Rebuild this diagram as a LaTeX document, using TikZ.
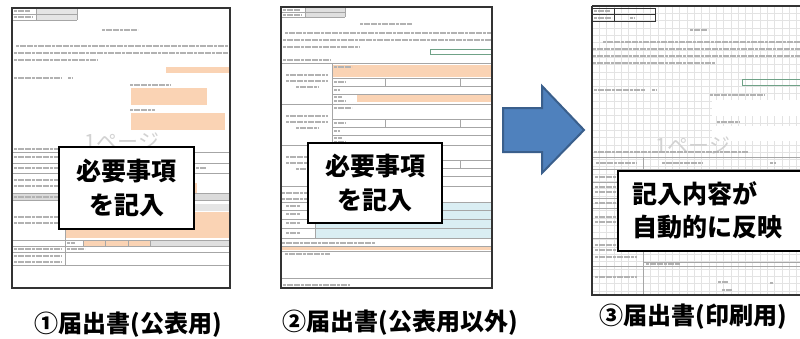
\documentclass[tikz,border=0pt]{standalone}
\usepackage{fontspec}
\newfontfamily\jpfont{Noto Sans CJK JP}
\definecolor{formorange}{HTML}{FAD3B4}
\definecolor{formblue}{HTML}{DAEEF3}
\definecolor{formgreen}{HTML}{6FA287}
\definecolor{arrowfill}{HTML}{4F81BD}
\definecolor{arrowline}{HTML}{3A5F8C}
\definecolor{frameline}{HTML}{333333}
\tikzset{
  sheet/.style={draw=frameline, line width=1.3pt},
  rule/.style={draw=gray!70, line width=0.5pt},
  txt/.style={draw=gray!60, line width=2.2pt, dash pattern=on 3pt off 0.6pt},
  gridline/.style={draw=gray!22, line width=0.4pt},
  memo/.style={draw=black, fill=white, line width=1.8pt, align=center,
    font=\jpfont\bfseries\fontsize{25}{34}\selectfont},
  memotext/.style={font=\jpfont\bfseries\fontsize{25}{33}\selectfont, align=left, inner sep=0pt},
  captext/.style={font=\jpfont\bfseries\fontsize{24}{26}\selectfont, inner sep=0pt},
  watermark/.style={font=\jpfont\fontsize{21}{21}\selectfont, text=gray!35}
}
\begin{document}
\begin{tikzpicture}[x=1pt, y=-1pt]
  \useasboundingbox (0,0) rectangle (800,338);
  \clip (0,0) rectangle (800,338);
  \fill[white] (0,0) rectangle (800,338);

  % (1) form for publication
  \fill[gray!20] (36,8) rectangle (77,20);
  \fill[formorange] (166,67) rectangle (230,73);
  \fill[formorange] (131,88) rectangle (207,105);
  \fill[formorange] (131,113) rectangle (225,130);
  \fill[formorange] (65,183) rectangle (197,193);
  \fill[gray!28] (12,194) rectangle (230,200);
  \fill[gray!20] (150,204) rectangle (230,211);
  \fill[formorange] (65,212) rectangle (230,238);
  \fill[formorange] (83,240) rectangle (150,246);
  \fill[gray!25] (150,240) rectangle (230,246);
  \node[watermark] (page1) at (122,142) {1ページ};
  \draw[rule] (12,14) -- (77,14) (36,8) -- (36,20) (77,8) -- (77,20) (12,20) -- (77,20);
  \draw[txt] (14,11) -- (30,11) (14,17) -- (33,17) (102,30) -- (138,30);
  \draw[txt] (16,46) -- (228,46) (14,53) -- (228,53) (14,60) -- (98,60);
  \draw[txt] (14,78) -- (62,78) (68,78) -- (72,78) (130,85) -- (170,85) (130,110) -- (155,110);
  \draw[txt] (14,149) -- (95,149);
  \foreach \y in {152,163,173,193,200,240,246,252,265}
    \draw[rule] (12,\y) -- (230,\y);
  \draw[rule] (65,152) -- (65,265) (83,240) -- (83,246) (105,240) -- (105,246)
    (128,240) -- (128,246) (150,240) -- (150,246);
  \foreach \y in {157,168,180,186,197,217,223,249,256,262}
    \draw[txt] (14,\y) -- (62,\y);
  \draw[txt] (67,243) -- (75,243) (67,249) -- (85,249) (196,168) -- (206,168);
  \draw[sheet] (12,8) rectangle (230,288);

  % (2) form not for publication
  \fill[gray!25] (305,7) rectangle (345,17);
  \fill[formorange] (333,65) rectangle (492,77);
  \fill[formorange] (357,95) rectangle (492,102);
  \fill[formblue] (315,202) rectangle (492,238);
  \fill[formorange] (281,247) rectangle (492,250);
  \draw[formgreen, line width=0.8pt] (430,49) rectangle (492,54);
  \draw[rule] (281,12) -- (345,12) (305,7) -- (305,17) (345,7) -- (345,17) (281,17) -- (345,17);
  \draw[txt] (283,10) -- (300,10) (283,15) -- (302,15) (360,24) -- (412,24);
  \draw[txt] (285,33) -- (492,33) (283,40) -- (492,40) (283,47) -- (360,47) (283,60) -- (330,60);
  \foreach \t in {63,104,145} {
    \draw[rule] (281,\t) -- (492,\t) (332,\t) -- (332,\t+41);
    \draw[rule] (332,\t+15) -- (492,\t+15) (332,\t+23) -- (492,\t+23) (332,\t+31) -- (492,\t+31)
      (385,\t+15) -- (385,\t+23) (460,\t+15) -- (460,\t+23);
    \draw[txt] (286,\t+12) -- (328,\t+12) (286,\t+18) -- (328,\t+18) (296,\t+24) -- (318,\t+24);
    \draw[txt] (334,\t+4) -- (352,\t+4) (334,\t+19) -- (346,\t+19) (334,\t+27) -- (340,\t+27)
      (334,\t+34) -- (342,\t+34) (334,\t+38) -- (346,\t+38);
  }
  \draw[rule] (281,186) -- (492,186);
  \draw[txt] (282,193) -- (322,193) (282,199) -- (312,199);
  \foreach \y in {202,210,219,228,238}
    \draw[rule] (281,\y) -- (492,\y);
  \draw[rule] (315,202) -- (315,238);
  \foreach \y in {206,214,223,233}
    \draw[txt] (286,\y) -- (300,\y);
  \draw[txt] (282,243) -- (375,243) (285,254) -- (330,254) (283,285) -- (350,285);
  \draw[rule] (281,246) -- (492,246) (281,251) -- (492,251) (281,278) -- (492,278);
  \draw[sheet] (281,7) rectangle (492,288);

  % arrow
  \filldraw[fill=arrowfill, draw=arrowline, line width=2pt, line join=miter]
    (503,108) -- (542,108) -- (542,86) -- (584,130) -- (542,173) -- (542,152) -- (503,152) -- cycle;

  % (3) form for printing
  \foreach \x in {599.3,606.6,...,800}
    \draw[gridline] (\x,6) -- (\x,295);
  \foreach \y in {13.3,20.6,...,295}
    \draw[gridline] (592,\y) -- (800,\y);
  \fill[white] (712,100) rectangle (800,116);
  \fill[white] (712,126) rectangle (800,141);
  \draw[frameline, line width=0.8pt] (592,8) rectangle (655,21) (592,14.5) -- (655,14.5) (614,8) -- (614,21);
  \draw[txt] (594,11) -- (610,11) (594,18) -- (612,18) (630,18) -- (634,18) (690,30) -- (708,30);
  \draw[txt] (603,42) -- (800,42) (593,49) -- (800,49) (593,56) -- (800,56) (593,63) -- (715,63);
  \draw[formgreen, line width=0.8pt] (742,79) rectangle (805,85);
  \draw[txt] (594,90) -- (645,90) (652,90) -- (656,90) (710,95) -- (765,95) (717,122) -- (740,122);
  \node[watermark] (page3) at (693,146) {1ページ};
  \draw[txt] (594,152) -- (748,152);
  \draw[rule] (592,157) -- (800,157) (592,169) -- (800,169) (643,157) -- (643,295);
  \foreach \y in {182,198,208,238}
    \draw[rule] (592,\y) -- (643,\y);
  \draw[rule] (643,262) -- (800,262) (592,266) -- (800,266);
  \draw[txt] (596,163) -- (636,163) (662,163) -- (702,163) (770,163) -- (776,163);
  \foreach \y in {177,187,192,203,217,222,245,250,257,277}
    \draw[txt] (595,\y) -- (637,\y);
  \draw[txt] (646,264) -- (680,264) (718,282) -- (728,282) (770,283) -- (773,283) (722,290) -- (732,290);
  \draw[frameline, line width=1.3pt] (805,295) -- (592,295) -- (592,6);
  \draw[frameline, line width=2pt] (592,6) -- (805,6);

  % callouts
  \node[memo, minimum width=135pt, minimum height=82pt] (memo1) at (126.5,188) {必要事項\\を記入};
  \node[memo, minimum width=134pt, minimum height=80pt] (memo2) at (375,183) {必要事項\\を記入};
  \node[memo, anchor=north west, minimum width=200pt, minimum height=80pt] (memo3) at (617,170) {};
  \node[memotext, anchor=west] (memo3text) at (632,210) {記入内容が\\自動的に反映};

  % captions
  \node[captext] (cap1) at (128,325) {①届出書(公表用)};
  \node[captext] (cap2) at (400,323) {②届出書(公表用以外)};
  \node[captext] (cap3) at (693,317) {③届出書(印刷用)};
\end{tikzpicture}
\end{document}
